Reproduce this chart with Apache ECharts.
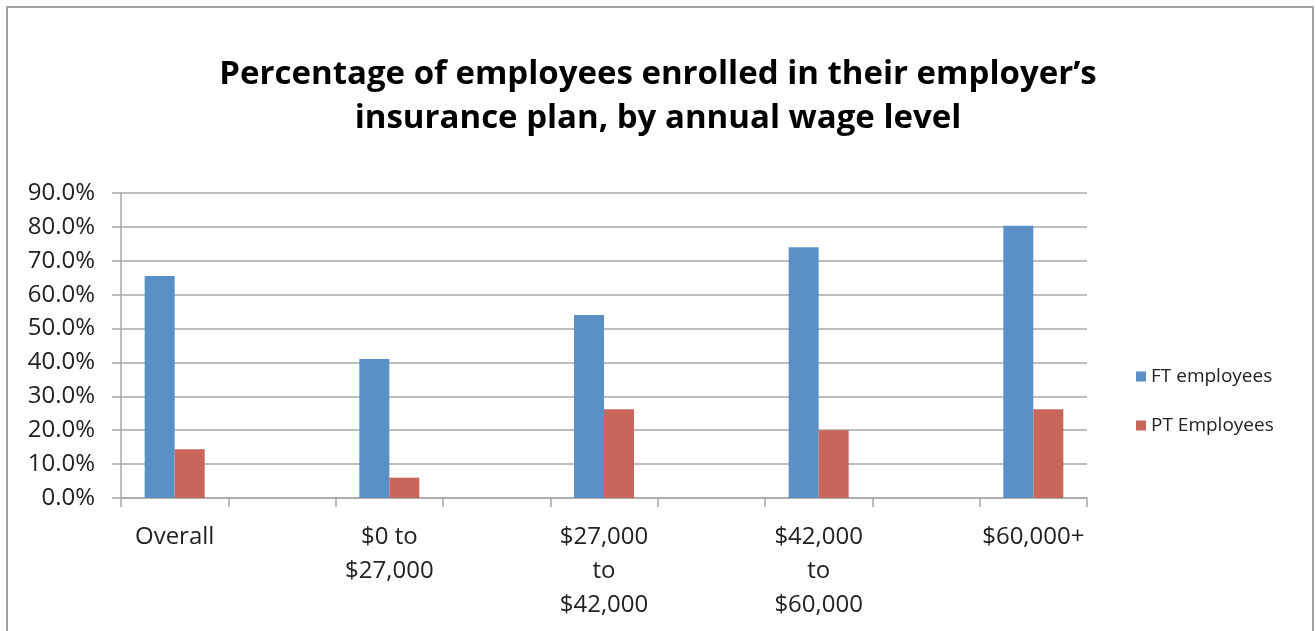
<!DOCTYPE html>
<html>
<head>
<meta charset="utf-8">
<title>Employer insurance enrollment by wage level</title>
<script src="https://cdn.jsdelivr.net/npm/echarts@6/dist/echarts.min.js"></script>
<style>
  html, body { margin: 0; padding: 0; background: #ffffff; }
  #chart { width: 1316px; height: 631px; }
</style>
</head>
<body>
<div id="chart"></div>
<script>
// Wage bands and enrollment rates (percent)
const wageBands = ['Overall', '$0 to\n$27,000', '$27,000\nto\n$42,000', '$42,000\nto\n$60,000', '$60,000+'];
const ftEmployees = [65.5, 41.0, 54.0, 74.0, 80.3];
const ptEmployees = [14.4, 6.0, 26.2, 20.0, 26.2];
const seriesNames = ['FT employees', 'PT Employees'];
const yTicks = [0, 10, 20, 30, 40, 50, 60, 70, 80, 90];

// Each wage band is followed by an empty slot, so the bars sit in every other band
function spaced(arr, filler) {
  const out = [];
  arr.forEach((v, i) => {
    out.push(v);
    if (i < arr.length - 1) out.push(filler);
  });
  return out;
}
const axisCategories = spaced(wageBands, '');
const ftData = spaced(ftEmployees, '-');
const ptData = spaced(ptEmployees, '-');

const FONT = "'Open Sans', 'Noto Sans', sans-serif";
const GRID_GREY = '#a8a8a8';

const chart = echarts.init(document.getElementById('chart'), null, { renderer: 'canvas' });
chart.setOption({
  backgroundColor: '#ffffff',
  animation: false,
  title: {
    text: 'Percentage of employees enrolled in their employer\u2019s\ninsurance plan, by annual wage level',
    left: 'center',
    top: 48,
    textStyle: {
      fontFamily: FONT,
      fontWeight: 'bold',
      fontSize: 33,
      lineHeight: 44,
      color: '#000000'
    }
  },
  legend: {
    orient: 'vertical',
    left: 1136,
    top: 367,
    padding: 0,
    itemWidth: 10,
    itemHeight: 10,
    itemGap: 30,
    icon: 'rect',
    data: seriesNames,
    textStyle: { fontFamily: FONT, fontSize: 19, color: '#222222' }
  },
  grid: {
    left: 121,
    right: 229,
    top: 193,
    bottom: 133,
    containLabel: false
  },
  xAxis: {
    type: 'category',
    data: axisCategories,
    axisLine: { show: true, lineStyle: { color: GRID_GREY, width: 1.5 } },
    axisTick: { show: true, length: 9, lineStyle: { color: GRID_GREY, width: 1.5 } },
    axisLabel: {
      interval: 0,
      margin: 22,
      fontFamily: FONT,
      fontSize: 24,
      lineHeight: 34,
      color: '#222222'
    },
    splitLine: { show: false }
  },
  yAxis: {
    type: 'value',
    min: yTicks[0],
    max: yTicks[yTicks.length - 1],
    interval: 10,
    axisLine: { show: true, lineStyle: { color: GRID_GREY, width: 1.5 } },
    axisTick: { show: true, length: 9, lineStyle: { color: GRID_GREY, width: 1.5 } },
    axisLabel: {
      margin: 26,
      fontFamily: FONT,
      fontSize: 24,
      color: '#222222',
      formatter: v => v.toFixed(1) + '%'
    },
    splitLine: { show: true, lineStyle: { color: GRID_GREY, width: 1.5 } }
  },
  series: [
    {
      name: seriesNames[0],
      type: 'bar',
      data: ftData,
      barWidth: 30,
      barGap: '0%',
      itemStyle: { color: '#5b90c6' }
    },
    {
      name: seriesNames[1],
      type: 'bar',
      data: ptData,
      barWidth: 30,
      barGap: '0%',
      itemStyle: { color: '#c9665c' }
    }
  ],
  graphic: [
    {
      // outer chart frame
      type: 'rect',
      shape: { x: 7, y: 7, width: 1306, height: 640 },
      style: { fill: 'none', stroke: '#a0a0a0', lineWidth: 2 },
      silent: true,
      z: -1
    }
  ]
});
</script>
</body>
</html>
